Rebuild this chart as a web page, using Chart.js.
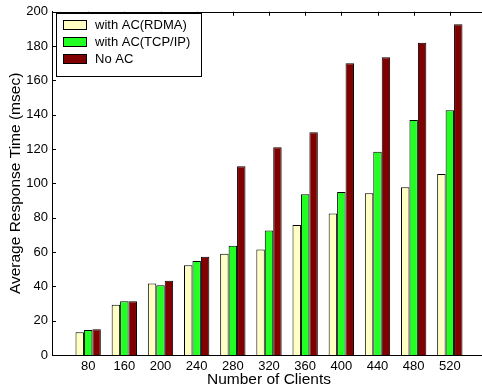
<!DOCTYPE html>
<html>
<head>
<meta charset="utf-8">
<script src="https://cdn.jsdelivr.net/npm/chart.js@4/dist/chart.umd.min.js"></script>
<style>
  html, body { margin: 0; padding: 0; overflow: hidden; background: #fff; }
  canvas { display: block; }
</style>
</head>
<body>
<canvas id="bar-chart" width="490" height="389"></canvas>
<script>
const clients = ["80", "160", "200", "240", "280", "320", "360", "400", "440", "480", "520"]
const rdmaTimes = [13.2, 29.3, 41.6, 52.3, 59, 61.5, 75.8, 82.4, 94.3, 97.7, 105.5]
const tcpTimes = [14.6, 31.3, 40.6, 54.8, 63.7, 72.6, 93.7, 95, 118.5, 137, 142.7]
const noAcTimes = [15, 31.3, 43.3, 57.3, 110, 121, 129.8, 170, 173.5, 182, 192.8]
const yTicks = [0, 20, 40, 60, 80, 100, 120, 140, 160, 180, 200]

const font = "'Liberation Sans', Arial, sans-serif"

// bars sit on x = 1..11, axis runs 0..12 like the matlab figure
const toPoints = (values) => values.map((v, i) => ({ x: i + 1, y: v }))

const series = [
  { label: "with AC(RDMA)", values: rdmaTimes, color: "#ffffc4" },
  { label: "with AC(TCP/IP)", values: tcpTimes, color: "#22ff22" },
  { label: "No AC", values: noAcTimes, color: "#800000" },
]

// inner ticks, top border and the boxed legend
const frame = {
  id: "frame",
  afterDraw(chart) {
    const c = chart.ctx
    const area = chart.chartArea
    const xs = chart.scales.x
    const ys = chart.scales.y
    c.save()
    c.strokeStyle = "#000"
    c.lineWidth = 1
    c.beginPath()
    c.moveTo(area.left, Math.round(area.top) + 0.5)
    c.lineTo(area.right, Math.round(area.top) + 0.5)
    clients.forEach((_, i) => {
      const px = Math.round(xs.getPixelForValue(i + 1)) + 0.5
      c.moveTo(px, area.top)
      c.lineTo(px, area.top + 4)
    })
    yTicks.forEach((v) => {
      const py = Math.round(ys.getPixelForValue(v)) + 0.5
      c.moveTo(area.left, py)
      c.lineTo(area.left + 4, py)
    })
    c.stroke()

    // legend
    const bx = 56.5, by = 13.5, bw = 145, bh = 63
    c.fillStyle = "#fff"
    c.fillRect(bx, by, bw, bh)
    c.strokeRect(bx, by, bw, bh)
    c.font = "13px " + font
    c.textBaseline = "middle"
    chart.data.datasets.forEach((ds, i) => {
      const cy = 25 + i * 17
      c.fillStyle = ds.backgroundColor
      c.fillRect(63.5, cy - 4.5, 23, 9)
      c.strokeRect(63.5, cy - 4.5, 23, 9)
      c.fillStyle = "#000"
      c.fillText(ds.label, 95, cy + 0.5)
    })
    c.restore()
  },
}

const ctx = document.getElementById("bar-chart")

new Chart(ctx, {
  type: "bar",
  data: {
    datasets: series.map((s) => ({
      label: s.label,
      data: toPoints(s.values),
      backgroundColor: s.color,
      borderColor: "#000",
      borderWidth: 1,
      barPercentage: 1,
      categoryPercentage: 0.7,
    })),
  },
  options: {
    responsive: false,
    animation: false,
    layout: { padding: { top: 11, right: 4, bottom: 0, left: 0 } },
    plugins: {
      legend: { display: false },
      tooltip: { enabled: false },
    },
    scales: {
      x: {
        type: "linear",
        min: 0,
        max: 12,
        offset: false,
        grid: { display: false, drawTicks: false },
        border: { display: true, color: "#000" },
        afterBuildTicks: (scale) => {
          scale.ticks = clients.map((_, i) => ({ value: i + 1 }))
        },
        afterFit: (scale) => { scale.height = 34 },
        ticks: {
          autoSkip: false,
          maxRotation: 0,
          padding: 4,
          color: "#000",
          font: { family: font, size: 13 },
          callback: (v) => clients[v - 1] || "",
        },
        title: {
          display: true,
          text: "Number of Clients",
          color: "#000",
          font: { family: font, size: 15.5 },
          padding: { top: 0, bottom: 0 },
        },
      },
      y: {
        min: 0,
        max: 200,
        grid: { display: false, drawTicks: false },
        border: { display: true, color: "#000" },
        afterFit: (scale) => { scale.width = 52 },
        ticks: {
          stepSize: 20,
          padding: 4,
          color: "#000",
          font: { family: font, size: 13 },
        },
        title: {
          display: true,
          text: "Average Response Time (msec)",
          color: "#000",
          font: { family: font, size: 15.5 },
          padding: { top: 6, bottom: 0 },
        },
      },
    },
  },
  plugins: [frame],
})
</script>
</body>
</html>
